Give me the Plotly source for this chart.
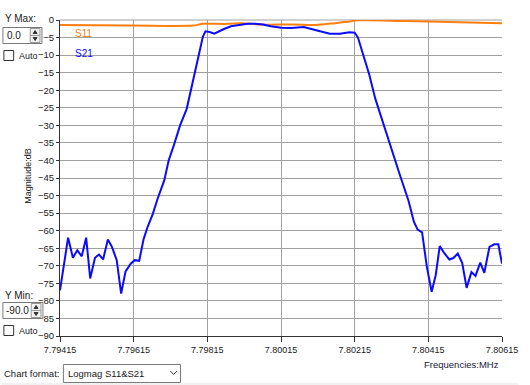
import plotly.graph_objects as go

# ---- data ----
s21_freq = [7.79415, 7.79437, 7.79450, 7.79462, 7.79474, 7.79486, 7.79497, 7.79510, 7.79521, 7.79532,
            7.79545, 7.79556, 7.79569, 7.79581, 7.79593, 7.79607, 7.79618, 7.79630, 7.79642, 7.79653,
            7.79667, 7.79680, 7.79698, 7.79710, 7.79724, 7.79741, 7.79759, 7.79770, 7.79781, 7.79790,
            7.79796, 7.79803, 7.79810, 7.79821, 7.79834, 7.79857, 7.79879, 7.79901, 7.79924, 7.79945,
            7.79966, 7.79987, 7.80016, 7.80042, 7.80077, 7.80113, 7.80148, 7.80175, 7.80201, 7.80215,
            7.80224, 7.80236, 7.80254, 7.80271, 7.80294, 7.80316, 7.80338, 7.80361, 7.80376, 7.80386,
            7.80398, 7.80411, 7.80424, 7.80435, 7.80446, 7.80459, 7.80472, 7.80483, 7.80495, 7.80507,
            7.80519, 7.80532, 7.80543, 7.80556, 7.80567, 7.80581, 7.80594, 7.80605, 7.80615]
s21_db = [-77.0, -62.0, -67.7, -65.6, -67.3, -62.0, -73.6, -67.7, -66.8, -68.2,
          -62.5, -64.6, -68.4, -77.9, -71.6, -69.4, -68.4, -68.6, -62.4, -58.9,
          -55.2, -50.9, -45.7, -40.0, -35.7, -30.0, -25.3, -20.1, -15.3, -10.4,
          -7.3, -4.7, -3.2, -3.4, -3.9, -2.7, -1.8, -1.4, -1.1, -1.1,
          -1.3, -1.8, -2.2, -2.3, -2.0, -3.0, -3.9, -3.9, -3.5, -3.6,
          -5.0, -9.2, -15.3, -22.4, -30.0, -36.6, -44.2, -51.4, -57.5, -59.7,
          -60.5, -70.3, -77.4, -72.7, -64.4, -66.5, -68.2, -67.8, -66.5, -69.2,
          -76.3, -71.8, -72.9, -69.1, -72.0, -64.6, -63.9, -63.9, -69.4]

s11_freq = [7.79415, 7.79608, 7.79775, 7.79792, 7.79801, 7.79870, 7.79906, 7.79959, 7.80048,
            7.80109, 7.80162, 7.80188, 7.80224, 7.80250, 7.80356, 7.80615]
s11_db = [-1.4, -1.6, -1.6, -1.3, -1.1, -1.1, -0.9, -1.3, -1.3,
          -1.4, -0.9, -0.6, -0.1, -0.05, -0.3, -0.9]

x_ticks = [7.79415, 7.79615, 7.79815, 7.80015, 7.80215, 7.80415, 7.80615]
x_tick_text = ["7.79415", "7.79615", "7.79815", "7.80015", "7.80215", "7.80415", "7.80615"]
y_ticks = list(range(0, -95, -5))

# ---- layout geometry (pixels) ----
W, H = 530, 385
L, R, T, B = 60, 513, 20, 336
FONT = "Liberation Sans"
TXT = "#1a1a1a"


def px(x):
    return (x - L) / (R - L)


def py(y):
    return (B - y) / (B - T)


fig = go.Figure()
fig.add_trace(go.Scatter(x=s11_freq, y=s11_db, mode="lines", name="S11",
                         line=dict(color="#ff7f0e", width=2), line_shape="spline"))
fig.add_trace(go.Scatter(x=s21_freq, y=s21_db, mode="lines", name="S21",
                         line=dict(color="#0a0aff", width=2)))

shapes = []
annotations = []


def rect(x0, y0, x1, y1, color="#7a7a7a", fill="white"):
    shapes.append(dict(type="rect", xref="paper", yref="paper",
                       x0=px(x0), x1=px(x1), y0=py(y0), y1=py(y1),
                       line=dict(color=color, width=1), fillcolor=fill, layer="above"))


def text(x, y, s, size=10, color=TXT, xanchor="left"):
    annotations.append(dict(xref="paper", yref="paper", x=px(x), y=py(y), text=s,
                            showarrow=False, xanchor=xanchor, yanchor="middle",
                            font=dict(family=FONT, size=size, color=color)))


def path(points, color="#333", fill=None):
    d = "M " + " L ".join(f"{px(a)},{py(b)}" for a, b in points)
    if fill:
        d += " Z"
    shapes.append(dict(type="path", xref="paper", yref="paper", path=d,
                       line=dict(color=color, width=1),
                       fillcolor=fill if fill else "rgba(0,0,0,0)", layer="above"))


# top grid line at 0
shapes.append(dict(type="line", xref="paper", yref="paper", x0=0, x1=1, y0=1, y1=1,
                   line=dict(color="#a0a0a0", width=1), layer="below"))

# Y Max controls
text(2, 19, "Y Max:", 10)
rect(1.5, 27.5, 41.5, 43.5)
text(4, 35.5, "0.0", 10)
rect(29.5, 28.5, 39.5, 35.5, color="#999", fill="#f0f0f0")
rect(29.5, 35.5, 39.5, 42.5, color="#999", fill="#f0f0f0")
path([(32.5, 33.5), (34.5, 30.5), (36.5, 33.5)], color="#333", fill="#333")
path([(32.5, 37.5), (34.5, 40.5), (36.5, 37.5)], color="#333", fill="#333")
rect(2.5, 50.5, 12.5, 60.5, color="#333")
text(16, 56, "Auto", 9)

# Y Min controls
text(2, 295, "Y Min:", 10)
rect(1.5, 302.5, 42.5, 318.5)
text(3, 310.5, "-90.0", 10)
rect(30.5, 303.5, 40.5, 310.5, color="#999", fill="#f0f0f0")
rect(30.5, 310.5, 40.5, 317.5, color="#999", fill="#f0f0f0")
path([(33.5, 308.5), (35.5, 305.5), (37.5, 308.5)], color="#333", fill="#333")
path([(33.5, 312.5), (35.5, 315.5), (37.5, 312.5)], color="#333", fill="#333")
rect(2.5, 325.5, 12.5, 335.5, color="#333")
text(16, 331, "Auto", 9)

# Chart format
text(1, 373, "Chart format:", 9.5)
rect(63.5, 364.5, 183.5, 382.5)
text(66, 373.5, "Logmag S11&amp;S21", 9.5)
path([(173, 371), (176.5, 374.5), (180, 371)], color="#333")
shapes.append(dict(type="line", xref="paper", yref="paper", x0=px(0), x1=px(530),
                   y0=py(384), y1=py(384), line=dict(color="#e3e3e3", width=1)))

# series labels and titles
text(73, 33, "S11", 10, color="#ff7f0e")
text(73, 53, "S21", 10, color="#0a0aff")
text(512, 364, "Frequencies:MHz", 9.5, color="#202038", xanchor="right")
annotations.append(dict(xref="paper", yref="paper", x=px(27), y=py(176), text="Magnitude:dB",
                        textangle=-90, showarrow=False, xanchor="center", yanchor="middle",
                        font=dict(family=FONT, size=9, color=TXT)))

fig.update_layout(
    width=W, height=H,
    margin=dict(l=L, r=W - R, t=T, b=H - B, pad=0),
    paper_bgcolor="white", plot_bgcolor="white",
    showlegend=False,
    shapes=shapes, annotations=annotations,
    xaxis=dict(range=[7.79415, 7.80615], tickvals=x_ticks, ticktext=x_tick_text,
               showgrid=True, gridcolor="#a0a0a0", gridwidth=1,
               showline=True, linecolor="#333", linewidth=1,
               ticks="outside", ticklen=5, tickcolor="#333",
               tickfont=dict(family=FONT, size=9, color=TXT),
               zeroline=False, fixedrange=True),
    yaxis=dict(range=[-90, 0], tickvals=y_ticks,
               showgrid=True, gridcolor="#a0a0a0", gridwidth=1,
               showline=True, linecolor="#333", linewidth=1,
               ticks="outside", ticklen=3, tickcolor="#333",
               tickfont=dict(family=FONT, size=9.5, color=TXT),
               zeroline=False, fixedrange=True),
)

fig.write_html("out.html", config={"displayModeBar": False})
